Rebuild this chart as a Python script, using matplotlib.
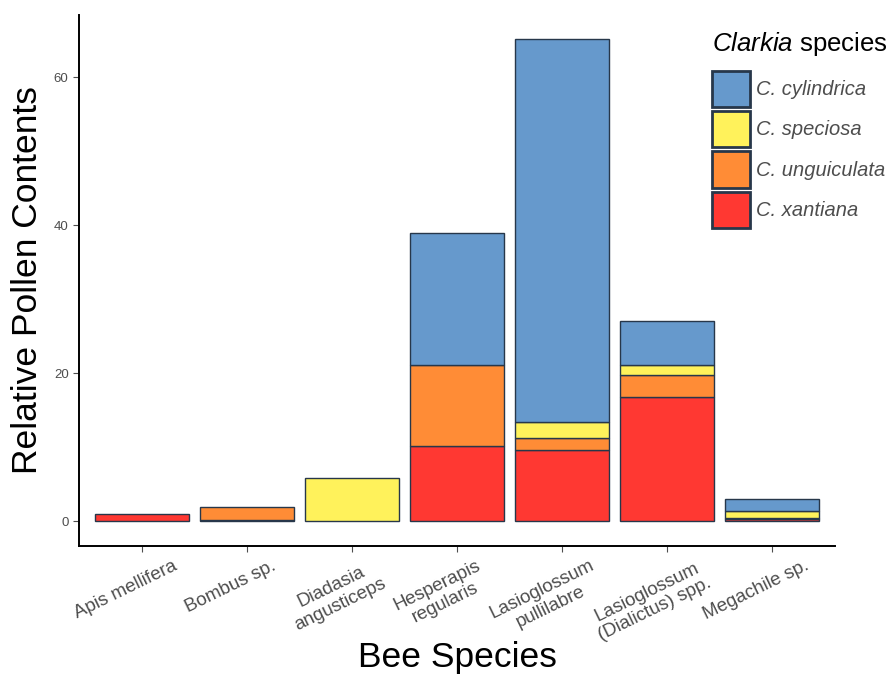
import numpy as np
import matplotlib
matplotlib.use('Agg')
import matplotlib.pyplot as plt
from matplotlib.patches import Patch
from matplotlib.transforms import ScaledTranslation

plt.rcParams['font.family'] = ['Liberation Sans', 'DejaVu Sans']
plt.rcParams['mathtext.fontset'] = 'custom'
plt.rcParams['mathtext.rm'] = 'Liberation Sans'
plt.rcParams['mathtext.it'] = 'Liberation Sans:italic'

bees = ['Apis mellifera', 'Bombus sp.', 'Diadasia\nangusticeps', 'Hesperapis\nregularis',
        'Lasioglossum\npullilabre', 'Lasioglossum\n(Dialictus) spp.', 'Megachile sp.']
# stacked bottom -> top
xantiana = [1.0, 0.25, 0.0, 10.2, 9.7, 16.8, 0.3]
unguiculata = [0.0, 1.65, 0.0, 10.9, 1.6, 3.0, 0.2]
speciosa = [0.0, 0.0, 5.9, 0.0, 2.1, 1.3, 0.9]
cylindrica = [0.0, 0.0, 0.0, 17.9, 51.7, 5.9, 1.6]

layers = [
    ('C. xantiana', xantiana, '#ff3832'),
    ('C. unguiculata', unguiculata, '#ff8c36'),
    ('C. speciosa', speciosa, '#fff25b'),
    ('C. cylindrica', cylindrica, '#6699cc'),
]
EDGE = '#27374a'

fig = plt.figure(figsize=(8.93, 6.78), dpi=100)
ax = fig.add_axes([0.0885, 0.195, 0.8465, 0.783])

x = np.arange(1, len(bees) + 1)
bottom = np.zeros(len(bees))
for name, vals, col in layers:
    v = np.array(vals)
    m = v > 0
    ax.bar(x[m], v[m], bottom=bottom[m], width=0.9, color=col,
           edgecolor=EDGE, linewidth=1.0)
    bottom += v

ax.set_xlim(0.4, 7.6)
ax.set_ylim(-3.3, 68.4)
ax.set_yticks([0, 20, 40, 60])
ax.tick_params(axis='y', labelsize=9.5, colors='#4d4d4d', length=4, width=0.8)
ax.tick_params(axis='x', length=4, width=0.8, colors='#4d4d4d')
for sp in ('top', 'right'):
    ax.spines[sp].set_visible(False)
for sp in ('left', 'bottom'):
    ax.spines[sp].set_linewidth(1.4)
    ax.spines[sp].set_color('black')

ax.set_xticks(x)
ax.set_xticklabels(bees, rotation=26, ha='center', va='top', multialignment='center',
                   fontsize=13.5, color='#4d4d4d', linespacing=1.2)
off = ScaledTranslation(-16 / 100, -1 / 100, fig.dpi_scale_trans)
for lbl in ax.get_xticklabels():
    lbl.set_transform(lbl.get_transform() + off)

ax.set_ylabel('Relative Pollen Contents', fontsize=25.5, labelpad=7)
ax.set_xlabel('Bee Species', fontsize=25.5)
ax.xaxis.set_label_coords(0.5, -0.18)

handles = [Patch(facecolor=col, edgecolor=EDGE, linewidth=2, label=name)
           for name, vals, col in layers[::-1]]
leg = fig.legend(handles=handles, loc='upper left', bbox_to_anchor=(704 / 893, 1 - 22 / 678),
                 frameon=False, fontsize=14.5, title=r'$\it{Clarkia}$ species',
                 title_fontsize=18.5, handlelength=1.9, handleheight=2.4,
                 labelspacing=0.2, handletextpad=0.3, borderaxespad=0)
leg._legend_box.align = 'left'
leg._legend_box.sep = 9
for t in leg.get_texts():
    t.set_color('#4d4d4d')
    t.set_fontstyle('italic')

fig.savefig('out.png', dpi=100)
